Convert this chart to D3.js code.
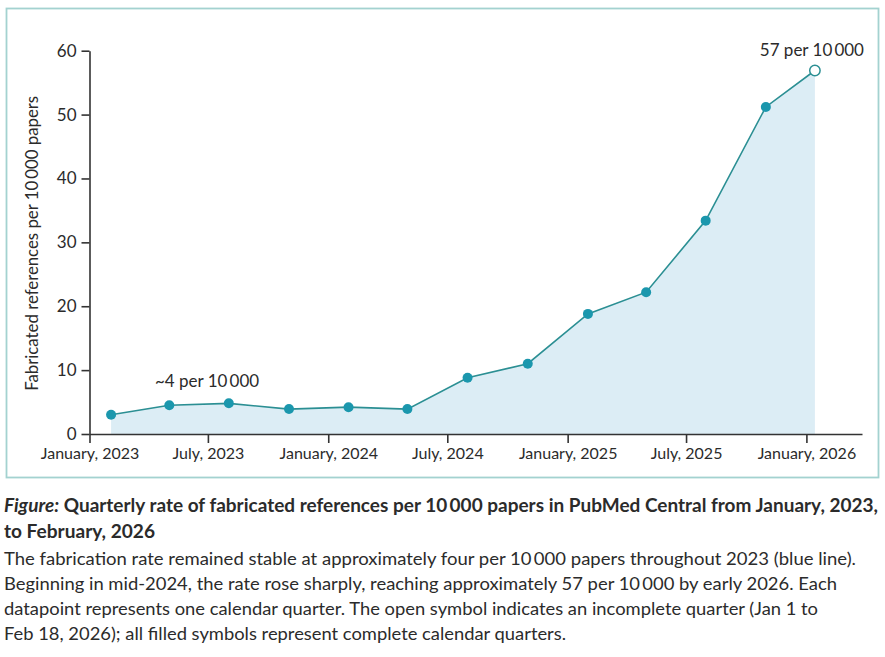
<!DOCTYPE html>
<html>
<head>
<meta charset="utf-8">
<script src="https://cdn.jsdelivr.net/npm/d3@7"></script>
<style>
  body { margin: 0; background: #fff; }
  svg text { font-family: Lato, "Open Sans", sans-serif; fill: #2b2b2b; }
</style>
</head>
<body>
<script>
// quarterly datapoints (x position = date the point is plotted at)
var quarterDates = ["2023-02-03", "2023-05-03", "2023-08-02", "2023-11-02",
                    "2024-02-01", "2024-05-01", "2024-08-01", "2024-11-01",
                    "2025-02-01", "2025-05-01", "2025-07-31", "2025-10-31",
                    "2026-01-14"];
var rates = [3.0, 4.5, 4.8, 3.9, 4.2, 3.9, 8.8, 11.0, 18.8, 22.2, 33.4, 51.2, 56.9];
var complete = [true, true, true, true, true, true, true, true, true, true, true, true, false];

var xTickDates = ["2023-01-01", "2023-07-01", "2024-01-01", "2024-07-01",
                  "2025-01-01", "2025-07-01", "2026-01-01"];
var xTickLabels = ["January, 2023", "July, 2023", "January, 2024", "July, 2024",
                   "January, 2025", "July, 2025", "January, 2026"];
var yTicks = [0, 10, 20, 30, 40, 50, 60];

var yTitle = "Fabricated references per 10\u2009000 papers";
var noteLow = "~4 per 10\u2009000";
var noteHigh = "57 per 10\u2009000";

var captionTitle = ["Quarterly rate of fabricated references per 10\u2009000 papers in PubMed Central from January, 2023,",
                    "to February, 2026"];
var captionBody = ["The fabrication rate remained stable at approximately four per 10\u2009000 papers throughout 2023 (blue line).",
                   "Beginning in mid-2024, the rate rose sharply, reaching approximately 57 per 10\u2009000 by early 2026. Each",
                   "datapoint represents one calendar quarter. The open symbol indicates an incomplete quarter (Jan 1 to",
                   "Feb 18, 2026); all filled symbols represent complete calendar quarters."];
// widths the caption lines take in the printed figure
var captionTitleWidths = [874, 151];
var captionBodyWidths = [852, 833, 814, 562];

function init(){
    var w = 885, h = 657;
    var parse = d3.timeParse("%Y-%m-%d");

    var data = quarterDates.map(function(d, i){
        return {date: parse(d), value: rates[i], complete: complete[i]};
    });

    var svg = d3.select("body").append("svg")
        .attr("width", w)
        .attr("height", h);

    //frame round the chart
    svg.append("rect")
        .attr("x", 6.5).attr("y", 8.5)
        .attr("width", 872).attr("height", 469)
        .attr("fill", "none")
        .attr("stroke", "#a3d2d0")
        .attr("stroke-width", 1.8);

    var x = d3.scaleTime()
        .domain([parse("2023-01-01"), parse("2026-03-27")])
        .range([89.5, 862]);
    var y = d3.scaleLinear()
        .domain([0, 60])
        .range([434, 50.7]);

    //area + line
    var area = d3.area()
        .x(function(d){ return x(d.date); })
        .y0(y(0))
        .y1(function(d){ return y(d.value); });
    var line = d3.line()
        .x(function(d){ return x(d.date); })
        .y(function(d){ return y(d.value); });

    svg.append("path")
        .datum(data)
        .attr("d", area)
        .attr("fill", "#dcedf5");

    //axes
    var xAxis = svg.append("g")
        .attr("transform", "translate(0," + y(0) + ")")
        .call(d3.axisBottom(x)
            .tickValues(xTickDates.map(parse))
            .tickFormat(function(d, i){ return xTickLabels[i]; })
            .tickSize(9)
            .tickSizeOuter(0)
            .tickPadding(5));
    var yAxis = svg.append("g")
        .attr("transform", "translate(" + x.range()[0] + ",0)")
        .call(d3.axisLeft(y)
            .tickValues(yTicks)
            .tickSize(8)
            .tickSizeOuter(0)
            .tickPadding(5));

    [xAxis, yAxis].forEach(function(a){
        a.select(".domain").attr("stroke", "#333").attr("stroke-width", 1.6);
        a.selectAll(".tick line").attr("stroke", "#333").attr("stroke-width", 1.6);
        a.selectAll(".tick text")
            .attr("fill", "#2b2b2b")
            .style("font-family", "Lato, sans-serif");
    });
    xAxis.selectAll(".tick text").style("font-size", "16px");
    yAxis.selectAll(".tick text").style("font-size", "17px");

    svg.append("path")
        .datum(data)
        .attr("d", line)
        .attr("fill", "none")
        .attr("stroke", "#2b8f93")
        .attr("stroke-width", 1.6);

    svg.selectAll("circle.pt")
        .data(data)
        .enter()
        .append("circle")
        .attr("class", "pt")
        .attr("cx", function(d){ return x(d.date); })
        .attr("cy", function(d){ return y(d.value); })
        .attr("r", function(d){ return d.complete ? 5 : 5.2; })
        .attr("fill", function(d){ return d.complete ? "#1b97ad" : "#fff"; })
        .attr("stroke", function(d){ return d.complete ? "none" : "#2b8f93"; })
        .attr("stroke-width", 1.5);

    //y axis title
    svg.append("text")
        .attr("transform", "translate(38," + (y(30) + 1) + ") rotate(-90)")
        .attr("text-anchor", "middle")
        .style("font-size", "16.8px")
        .text(yTitle);

    //annotations
    svg.append("text")
        .attr("x", (x(data[1].date) + x(data[2].date)) / 2 + 8)
        .attr("y", y(data[2].value) - 16)
        .attr("text-anchor", "middle")
        .style("font-size", "17px")
        .text(noteLow);
    svg.append("text")
        .attr("x", x(data[12].date) - 3)
        .attr("y", y(data[12].value) - 15)
        .attr("text-anchor", "middle")
        .style("font-size", "17px")
        .text(noteHigh);

    //caption
    var cap = svg.append("g").attr("transform", "translate(4,0)");
    var t1 = cap.append("text")
        .attr("y", 512)
        .attr("textLength", captionTitleWidths[0])
        .attr("lengthAdjust", "spacingAndGlyphs")
        .style("font-size", "18px")
        .style("font-weight", "bold");
    t1.append("tspan").style("font-style", "italic").text("Figure:");
    t1.append("tspan").text(" " + captionTitle[0]);
    cap.append("text")
        .attr("y", 538)
        .attr("textLength", captionTitleWidths[1])
        .attr("lengthAdjust", "spacingAndGlyphs")
        .style("font-size", "18px")
        .style("font-weight", "bold")
        .text(captionTitle[1]);

    cap.selectAll("text.body")
        .data(captionBody)
        .enter()
        .append("text")
        .attr("class", "body")
        .attr("y", function(d, i){ return 565 + i * 25; })
        .attr("textLength", function(d, i){ return captionBodyWidths[i]; })
        .attr("lengthAdjust", "spacingAndGlyphs")
        .style("font-size", "18px")
        .text(function(d){ return d; });
}
window.onload = init;
</script>
</body>
</html>
